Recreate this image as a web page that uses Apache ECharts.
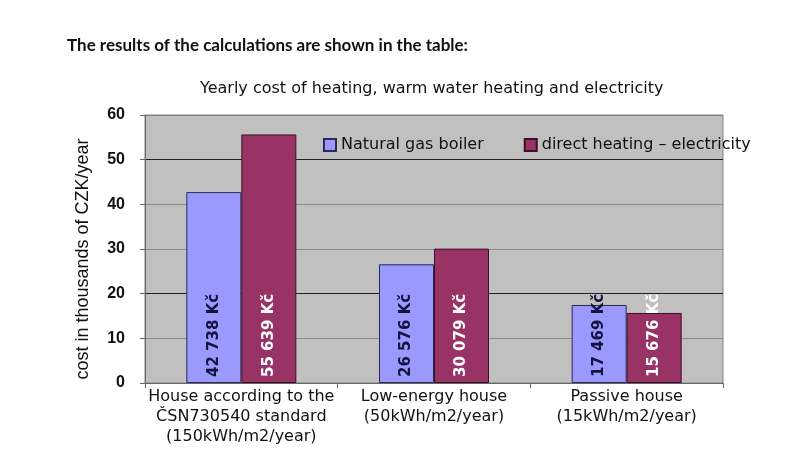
<!DOCTYPE html>
<html>
<head>
<meta charset="utf-8">
<script src="https://cdn.jsdelivr.net/npm/echarts@6/dist/echarts.min.js"></script>
<style>
  html, body { margin: 0; padding: 0; background: #ffffff; }
  #chart { width: 800px; height: 460px; }
</style>
</head>
<body>
<div id="chart"></div>
<script>
// data (thousands of CZK / year)
var categories = [
  'House according to the\nČSN730540 standard\n(150kWh/m2/year)',
  'Low-energy house\n(50kWh/m2/year)',
  'Passive house\n(15kWh/m2/year)'
];
var seriesNames = ['Natural gas boiler', 'direct heating – electricity'];
var gasValues = [42.738, 26.576, 17.469];
var elecValues = [55.639, 30.079, 15.676];
var yTicks = [0, 10, 20, 30, 40, 50, 60];

function kc(v) {
  // 42.738 -> "42 738 Kč"
  var n = Math.round(v * 1000).toString();
  return n.slice(0, n.length - 3) + ' ' + n.slice(n.length - 3) + ' Kč';
}

var chart = echarts.init(document.getElementById('chart'));

var barLabel = function (color) {
  return {
    show: true,
    position: 'insideBottom',
    rotate: 90,
    align: 'left',
    verticalAlign: 'middle',
    distance: 6,
    color: color,
    fontFamily: 'DejaVu Sans',
    fontWeight: 'bold',
    fontSize: 15,
    formatter: function (p) { return kc(p.value); }
  };
};

var option = {
  backgroundColor: '#ffffff',
  animation: false,
  title: [
    {
      text: 'The results of the calculations are shown in the table:',
      left: 62,
      top: 32,
      textStyle: { fontFamily: 'Lato', fontWeight: 'bold', fontSize: 17, color: '#111' }
    },
    {
      text: 'Yearly cost of heating, warm water heating and electricity',
      left: 195,
      top: 76,
      textStyle: { fontFamily: 'DejaVu Sans', fontWeight: 'normal', fontSize: 16, color: '#111' }
    }
  ],
  legend: {
    left: 318,
    top: 132,
    itemWidth: 12,
    itemHeight: 12,
    itemGap: 40,
    icon: 'rect',
    data: seriesNames,
    textStyle: { fontFamily: 'DejaVu Sans', fontSize: 16, color: '#111' }
  },
  grid: {
    left: 145,
    right: 77,
    top: 115,
    bottom: 77,
    show: true,
    backgroundColor: '#c0c0c0',
    borderColor: '#808080',
    borderWidth: 1
  },
  xAxis: {
    type: 'category',
    data: categories,
    axisLine: { lineStyle: { color: '#666', width: 1 } },
    axisTick: { show: true, length: 5, lineStyle: { color: '#666' } },
    axisLabel: {
      margin: 4,
      color: '#111',
      fontFamily: 'DejaVu Sans',
      fontSize: 16,
      lineHeight: 20,
      interval: 0
    }
  },
  yAxis: {
    type: 'value',
    min: yTicks[0],
    max: yTicks[yTicks.length - 1],
    interval: 10,
    name: 'cost in thousands of CZK/year',
    nameLocation: 'middle',
    nameGap: 53,
    nameTextStyle: { fontFamily: 'Liberation Sans', fontSize: 18, color: '#111', padding: [0, 20, 0, 0] },
    axisLine: { show: true, lineStyle: { color: '#666' } },
    axisTick: { show: true, length: 5, lineStyle: { color: '#666' } },
    axisLabel: {
      margin: 20,
      color: '#111',
      fontFamily: 'Liberation Sans',
      fontWeight: 'bold',
      fontSize: 16
    },
    splitLine: {
      show: true,
      lineStyle: {
        color: ['#808080', '#8c8c8c', '#222222', '#8c8c8c', '#8c8c8c', '#222222', '#808080'],
        width: 1
      }
    }
  },
  series: [
    {
      name: seriesNames[0],
      type: 'bar',
      data: gasValues,
      barWidth: 55,
      barGap: '0%',
      itemStyle: { color: '#9999ff', borderColor: '#2a2a55', borderWidth: 1 },
      label: barLabel('#14143c')
    },
    {
      name: seriesNames[1],
      type: 'bar',
      data: elecValues,
      barWidth: 55,
      barGap: '0%',
      itemStyle: { color: '#993366', borderColor: '#3a1026', borderWidth: 1 },
      label: barLabel('#ffffff')
    }
  ]
};

chart.setOption(option);
</script>
</body>
</html>
